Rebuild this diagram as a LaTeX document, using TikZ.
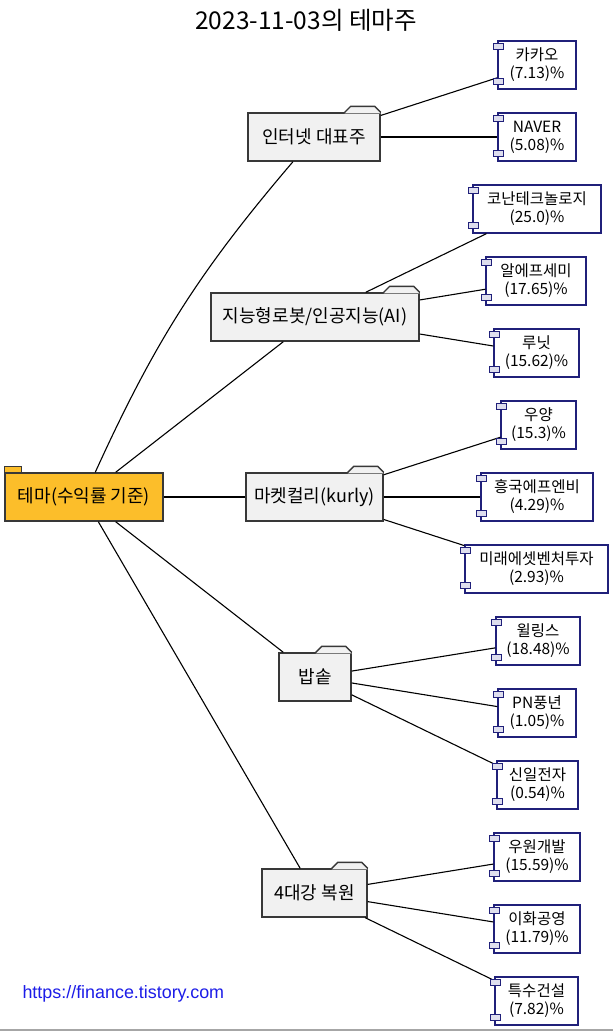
\documentclass[tikz,border=0pt]{standalone}
\usepackage{fontspec}
\setmainfont{Noto Sans CJK KR}
\newfontfamily\linkfont{Liberation Sans}
\usetikzlibrary{calc}

\definecolor{rootfill}{RGB}{252,190,42}
\definecolor{folderfill}{RGB}{241,241,241}
\definecolor{folderline}{RGB}{56,56,56}
\definecolor{compline}{RGB}{32,32,122}
\definecolor{portfill}{RGB}{222,222,238}
\definecolor{linkblue}{RGB}{28,28,232}

\tikzset{
  folder/.style={draw=folderline, line width=1.4pt, fill=folderfill, minimum height=48pt,
    inner sep=0pt, font=\fontsize{18}{21}\selectfont},
  comp/.style={draw=compline, line width=1.2pt, fill=white, minimum height=48pt,
    inner sep=0pt, align=center, font=\fontsize{15.5}{18}\selectfont},
  port/.style={draw=compline, line width=1pt, fill=portfill},
  link/.style={line width=1.1pt},
}

\begin{document}
\begin{tikzpicture}[x=1pt,y=-1pt]
\path [fill=white] (0,0) rectangle (613,1031);
\useasboundingbox (0,0) rectangle (613,1031);

% title and footer
\node (title) at (306,20) {\fontsize{24.5}{28}\selectfont 2023-11-03의 테마주};
\node [anchor=base west, text=linkblue, font=\linkfont\fontsize{17.9}{20}\selectfont] (site) at (19,998) {https://finance.tistory.com};
\path [draw=gray!70, line width=2pt] (0,1030) -- (613,1030);

% themes
\node [folder, fill=rootfill, minimum width=158pt] (root) at (84,497) {테마(수익률 기준)};
\node [folder, minimum width=132pt] (inet) at (314,137) {인터넷 대표주};
\node [folder, minimum width=208pt] (robot) at (315,317) {지능형로봇/인공지능(AI)};
\node [folder, minimum width=137pt] (kurly) at (314.5,497) {마켓컬리(kurly)};
\node [folder, minimum width=72pt] (rice) at (315,677) {밥솥};
\node [folder, minimum width=105pt] (river) at (314.5,893) {4대강 복원};

\path [draw=folderline, line width=1.2pt, fill=rootfill] (root.north west) rectangle +(17,-6);
\foreach \f in {inet,robot,kurly,rice,river} {
  \path [fill=folderfill] ($(\f.north east)+(-36,1)$) -- ++(6,-7) -- ($(\f.north east)+(-6,-6)$) -- ($(\f.north east)+(0,1)$) -- cycle;
  \path [draw=folderline, line width=1.4pt] ($(\f.north east)+(-36,0)$) -- ++(6,-6) -- ($(\f.north east)+(-6,-6)$) -- (\f.north east);
}

% stocks
\foreach \cid/\cname/\cpct/\cx/\cy/\cw in {
  kakao/카카오/7.13/537/65/78,
  naver/NAVER/5.08/537/137/78,
  konan/코난테크놀로지/25.0/537/209/128,
  rfsemi/알에프세미/17.65/536/281/100,
  lunit/루닛/15.62/536.5/353/85,
  wooyang/우양/15.3/538.5/425/75,
  hfnb/흥국에프엔비/4.29/537/497/112,
  mirae/미래에셋벤처투자/2.93/536.5/569/143,
  willings/윌링스/18.48/538/641/84,
  pn/PN풍년/1.05/537/713/78,
  shinil/신일전자/0.54/537.5/785/81,
  woowon/우원개발/15.59/537/857/86,
  ewha/이화공영/11.79/537/929/86,
  tuksu/특수건설/7.82/536.5/1001/83}
  \node [comp, minimum width={\cw pt}] (\cid) at (\cx,\cy) {\cname\\(\cpct)\%};

% connectors
\path [draw, link] (root) to [bend left=8] (inet);
\path [draw, link] (root) -- (robot);
\path [draw, link] (root) -- (kurly);
\path [draw, link] (root) -- (rice);
\path [draw, link] (root) -- (river);
\path [draw, link] (inet) -- (kakao);
\path [draw, link] (inet) -- (naver);
\path [draw, link] (robot) -- (konan);
\path [draw, link] (robot) -- (rfsemi);
\path [draw, link] (robot) -- (lunit);
\path [draw, link] (kurly) -- (wooyang);
\path [draw, link] (kurly) -- (hfnb);
\path [draw, link] (kurly) -- (mirae);
\path [draw, link] (rice) -- (willings);
\path [draw, link] (rice) -- (pn);
\path [draw, link] (rice) -- (shinil);
\path [draw, link] (river) -- (woowon);
\path [draw, link] (river) -- (ewha);
\path [draw, link] (river) -- (tuksu);

% ports on the stock boxes
\foreach \cid in {kakao,naver,konan,rfsemi,lunit,wooyang,hfnb,mirae,willings,pn,shinil,woowon,ewha,tuksu} {
  \path [port] ([shift={(-4,3)}]\cid.north west) rectangle +(10,6);
  \path [port] ([shift={(-4,-11)}]\cid.south west) rectangle +(10,6);
}
\end{tikzpicture}
\end{document}
